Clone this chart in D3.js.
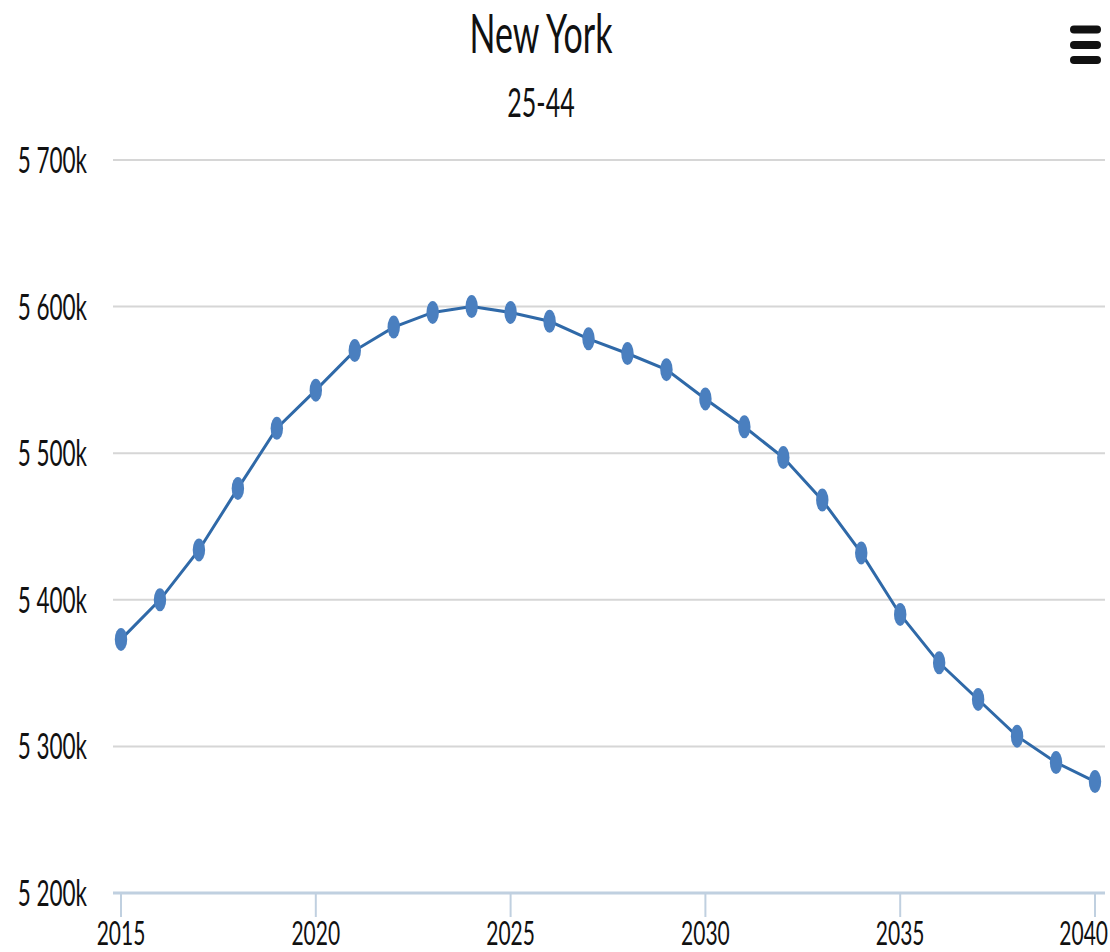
<!DOCTYPE html>
<html>
<head>
<meta charset="utf-8">
<script src="https://cdn.jsdelivr.net/npm/d3@7"></script>
<style>
  html, body { margin: 0; padding: 0; background: #fff; overflow: hidden; }
  #chart { width: 1110px; height: 952px; }
  text { font-family: Lato, "Open Sans", sans-serif; fill: #111; }
</style>
</head>
<body>
<div id="chart"></div>
<script>
// data
var years = d3.range(2015, 2041);
var population = [5373, 5400, 5434, 5476, 5517, 5543, 5570, 5586, 5596, 5600,
                  5596, 5590, 5578, 5568, 5557, 5537, 5518, 5497, 5468, 5432,
                  5390, 5357, 5332, 5307, 5289, 5276];
var yTicks = [5200, 5300, 5400, 5500, 5600, 5700];
var xTicks = [2015, 2020, 2025, 2030, 2035, 2040];

var width = 1110, height = 952;
// the source picture was stretched vertically, text gets the same stretch
var ts = 1.6;
var stretch = (px, py) => "translate(" + px + "," + py + ") scale(1," + ts + ")";

var svg = d3.select("#chart")
    .append("svg")
        .attr("width", width)
        .attr("height", height);

var x = d3.scaleLinear().domain([2015, 2040]).range([121, 1095]);
var y = d3.scaleLinear().domain([5200, 5700]).range([893, 160]);

// title + subtitle
svg.append("text")
    .attr("transform", stretch(541, 53))
    .attr("text-anchor", "middle")
    .style("font-size", "34px")
    .text("New York");

svg.append("text")
    .attr("transform", stretch(541, 117))
    .attr("text-anchor", "middle")
    .style("font-size", "25px")
    .text("25-44");

// menu icon
svg.append("g")
    .selectAll("line")
    .data([29.5, 45, 60])
    .join("line")
        .attr("x1", 1074).attr("x2", 1097)
        .attr("y1", d => d).attr("y2", d => d)
        .attr("stroke", "#111")
        .attr("stroke-width", 8)
        .attr("stroke-linecap", "round");

// grid lines
svg.append("g")
    .selectAll("line")
    .data(yTicks.slice(1))
    .join("line")
        .attr("x1", 113).attr("x2", 1105)
        .attr("y1", d => y(d)).attr("y2", d => y(d))
        .attr("stroke", "#d6d6d6")
        .attr("stroke-width", 2);

// y axis labels
svg.append("g")
    .selectAll("text")
    .data(yTicks)
    .join("text")
        .attr("transform", d => stretch(87, y(d) + 13))
        .attr("text-anchor", "end")
        .style("font-size", "22.5px")
        .text(d => d3.format(",")(d).replace(",", " ") + "k");

// x axis
var xAxis = svg.append("g")
    .attr("transform", "translate(0," + y(5200) + ")");

xAxis.append("line")
    .attr("x1", 113).attr("x2", 1105)
    .attr("stroke", "#c0d0e0")
    .attr("stroke-width", 3);

xAxis.selectAll(".tick")
    .data(xTicks)
    .join("line")
        .attr("class", "tick")
        .attr("x1", d => x(d)).attr("x2", d => x(d))
        .attr("y1", 0).attr("y2", 24)
        .attr("stroke", "#c0d0e0")
        .attr("stroke-width", 2);

// last label is pushed inside the chart edge
xAxis.selectAll(".lbl")
    .data(xTicks)
    .join("text")
        .attr("class", "lbl")
        .attr("transform", (d, i) => stretch(i === xTicks.length - 1 ? 1108 : x(d), 52))
        .attr("text-anchor", (d, i) => i === xTicks.length - 1 ? "end" : "middle")
        .style("font-size", "21px")
        .text(d => d);

// line + markers
var line = d3.line()
    .x((d, i) => x(years[i]))
    .y(d => y(d));

svg.append("path")
    .datum(population)
    .attr("d", line)
    .attr("fill", "none")
    .attr("stroke", "#2f69a8")
    .attr("stroke-width", 3);

svg.append("g")
    .selectAll("ellipse")
    .data(population)
    .join("ellipse")
        .attr("cx", (d, i) => x(years[i]))
        .attr("cy", d => y(d))
        .attr("rx", 6.2)
        .attr("ry", 11.5)
        .attr("fill", "#4a7fbf");
</script>
</body>
</html>
